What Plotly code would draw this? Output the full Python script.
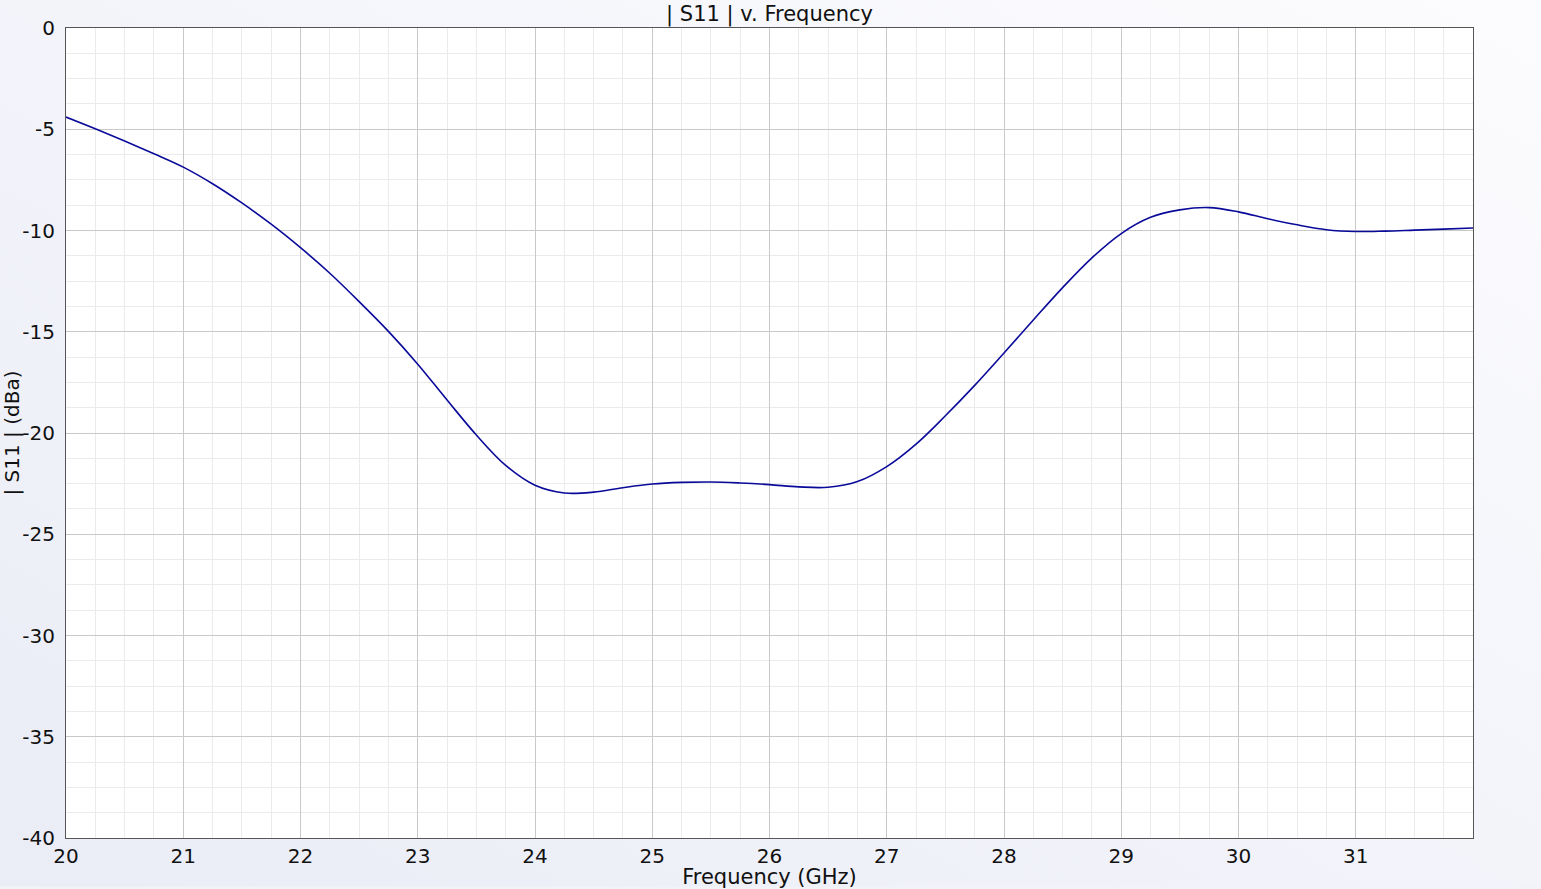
import base64
import plotly.graph_objects as go

# S11 sweep
freq_ghz = [20.0, 20.25, 20.5, 20.75, 21.0, 21.25, 21.5, 21.75, 22.0, 22.25,
            22.5, 22.75, 23.0, 23.25, 23.5, 23.75, 24.0, 24.25, 24.5, 24.75,
            25.0, 25.25, 25.5, 25.75, 26.0, 26.25, 26.5, 26.75, 27.0, 27.25,
            27.5, 27.75, 28.0, 28.25, 28.5, 28.75, 29.0, 29.25, 29.5, 29.75,
            30.0, 30.25, 30.5, 30.75, 31.0, 31.25, 31.5, 31.75, 32.0]
s11_db = [-4.40, -4.98, -5.58, -6.21, -6.87, -7.69, -8.64, -9.69, -10.85, -12.11,
          -13.51, -14.98, -16.60, -18.37, -20.10, -21.60, -22.58, -22.96, -22.92, -22.70,
          -22.52, -22.44, -22.42, -22.47, -22.55, -22.66, -22.68, -22.40, -21.66, -20.55,
          -19.15, -17.65, -16.05, -14.42, -12.82, -11.35, -10.15, -9.35, -8.98, -8.87,
          -9.08, -9.42, -9.72, -9.96, -10.05, -10.03, -9.98, -9.93, -9.88]

x_ticks = list(range(20, 32))
y_ticks = list(range(-40, 1, 5))

FONT = "DejaVu Sans, Liberation Sans, sans-serif"

# soft bluish backdrop like the original app window
svg = ('<svg xmlns="http://www.w3.org/2000/svg" width="100" height="100" preserveAspectRatio="none">'
       '<defs><linearGradient id="g" x1="0" y1="1" x2="1" y2="0">'
       '<stop offset="0" stop-color="#eaecf6"/><stop offset="1" stop-color="#fcfcfe"/>'
       '</linearGradient></defs><rect width="100" height="100" fill="url(#g)"/></svg>')
bg_uri = "data:image/svg+xml;base64," + base64.b64encode(svg.encode()).decode()

fig = go.Figure()
fig.add_trace(go.Scatter(x=freq_ghz, y=s11_db, mode="lines",
                         line=dict(color="#0a0a9a", width=1.6, shape="spline", smoothing=1.0),
                         showlegend=False, hoverinfo="x+y"))

fig.update_layout(
    width=1541, height=889,
    margin=dict(l=66, r=68, t=28, b=51),
    paper_bgcolor="#f2f3f9",
    plot_bgcolor="white",
    font=dict(family=FONT, size=20, color="#111"),
    title=dict(text="| S11 | v. Frequency", x=(66 + 1473) / 2 / 1541, xanchor="center",
               y=1 - 14 / 889, yanchor="middle", font=dict(size=21)),
    images=[dict(source=bg_uri, xref="paper", yref="paper", x=-0.05, y=1.04, sizex=1.1, sizey=1.1,
                 sizing="stretch", layer="below", xanchor="left", yanchor="top")],
    # white plot area on top of the backdrop
    shapes=[dict(type="rect", xref="x domain", yref="y domain", x0=0, x1=1, y0=0, y1=1,
                 fillcolor="white", line=dict(width=0), layer="below")],
)

fig.update_xaxes(
    range=[20, 32], tickvals=x_ticks, ticktext=[str(v) for v in x_ticks],
    showgrid=True, gridcolor="#c9c9c9", gridwidth=1,
    minor=dict(dtick=0.25, showgrid=True, gridcolor="#ebebeb", gridwidth=1),
    showline=True, linecolor="#555", linewidth=1, mirror=True,
    ticks="", zeroline=False, ticklabelstandoff=0, automargin=False,
    title=dict(text="Frequency (GHz)", standoff=2, font=dict(size=21)),
)
fig.update_yaxes(
    range=[-40, 0], tickvals=y_ticks, ticktext=[str(v) for v in y_ticks],
    showgrid=True, gridcolor="#c9c9c9", gridwidth=1,
    minor=dict(dtick=1.25, showgrid=True, gridcolor="#ebebeb", gridwidth=1),
    showline=True, linecolor="#555", linewidth=1, mirror=True,
    ticks="", zeroline=False, ticklabelstandoff=6, automargin=False,
    title=dict(text="| S11 | (dBa)", standoff=2, font=dict(size=20)),
)

fig.write_html("out.html", config={"displayModeBar": False},
               post_script="document.body.style.margin='0';")
